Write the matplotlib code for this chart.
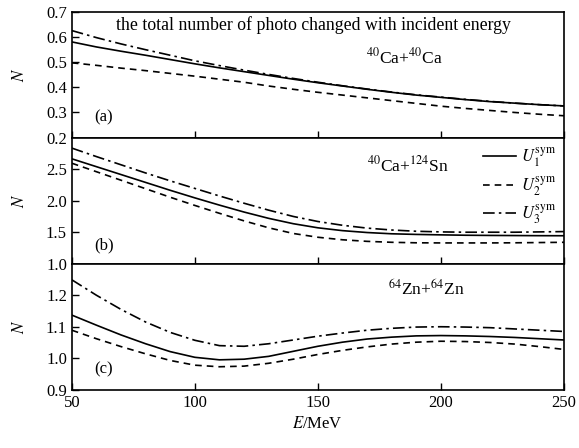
import matplotlib
matplotlib.use('Agg')
import matplotlib.pyplot as plt

plt.rcParams['font.family'] = ['Liberation Serif', 'DejaVu Serif']
plt.rcParams['mathtext.fontset'] = 'stix'

# incident energy (MeV)
energy = [50, 60, 70, 80, 90, 100, 110, 120, 130, 140, 150,
          160, 170, 180, 190, 200, 210, 220, 230, 240, 250]

# (a) 40Ca+40Ca
ca_u1 = [0.580, 0.560, 0.543, 0.527, 0.510, 0.493, 0.477, 0.462, 0.447, 0.432, 0.418,
         0.405, 0.392, 0.380, 0.369, 0.360, 0.351, 0.343, 0.337, 0.331, 0.326]
ca_u2 = [0.497, 0.487, 0.476, 0.466, 0.455, 0.444, 0.432, 0.420, 0.405, 0.392, 0.380,
         0.369, 0.358, 0.347, 0.336, 0.325, 0.316, 0.308, 0.300, 0.293, 0.287]
ca_u3 = [0.625, 0.597, 0.572, 0.549, 0.527, 0.505, 0.486, 0.468, 0.451, 0.435, 0.420,
         0.406, 0.393, 0.381, 0.370, 0.361, 0.352, 0.344, 0.337, 0.331, 0.326]

# (b) 40Ca+124Sn
sn_u1 = [2.665, 2.540, 2.415, 2.290, 2.165, 2.045, 1.930, 1.820, 1.720, 1.635, 1.570,
         1.525, 1.495, 1.475, 1.465, 1.458, 1.452, 1.449, 1.447, 1.445, 1.444]
sn_u2 = [2.595, 2.460, 2.325, 2.190, 2.055, 1.925, 1.800, 1.680, 1.570, 1.480, 1.420,
         1.380, 1.355, 1.340, 1.332, 1.330, 1.330, 1.330, 1.332, 1.336, 1.340]
sn_u3 = [2.835, 2.700, 2.570, 2.440, 2.315, 2.195, 2.075, 1.960, 1.850, 1.750, 1.670,
         1.610, 1.565, 1.535, 1.515, 1.505, 1.500, 1.500, 1.500, 1.505, 1.510]

# (c) 64Zn+64Zn
zn_u1 = [1.137, 1.105, 1.074, 1.046, 1.021, 1.003, 0.995, 0.997, 1.006, 1.022, 1.038,
         1.051, 1.061, 1.067, 1.071, 1.072, 1.071, 1.069, 1.066, 1.062, 1.058]
zn_u2 = [1.089, 1.062, 1.037, 1.014, 0.993, 0.978, 0.973, 0.975, 0.984, 0.997, 1.012,
         1.025, 1.036, 1.045, 1.051, 1.054, 1.053, 1.050, 1.045, 1.037, 1.028]
zn_u3 = [1.249, 1.200, 1.155, 1.115, 1.082, 1.057, 1.040, 1.038, 1.046, 1.058, 1.070,
         1.080, 1.089, 1.095, 1.099, 1.100, 1.099, 1.097, 1.093, 1.089, 1.085]

labels = [r'$U_1^{\rm sym}$', r'$U_2^{\rm sym}$', r'$U_3^{\rm sym}$']
styles = [dict(ls='-'), dict(ls=(0, (4, 3))), dict(ls=(0, (7, 2.5, 1.5, 2.5)))]

# series, ylim, yticks, ticklabels, tag, tag y, system label, label pos
panels = [
    ([ca_u1, ca_u2, ca_u3], (0.2, 0.7), [0.2, 0.3, 0.4, 0.5, 0.6, 0.7],
     ['0.2', '0.3', '0.4', '0.5', '0.6', '0.7'], '(a)', 0.16,
     r'$^{40}$Ca+$^{40}$Ca', (0.675, 0.64)),
    ([sn_u1, sn_u2, sn_u3], (1.0, 3.0), [1.0, 1.5, 2.0, 2.5],
     ['1.0', '1.5', '2.0', '2.5'], '(b)', 0.145,
     r'$^{40}$Ca+$^{124}$Sn', (0.683, 0.78)),
    ([zn_u1, zn_u2, zn_u3], (0.9, 1.3), [0.9, 1.0, 1.1, 1.2],
     ['0.9', '1.0', '1.1', '1.2'], '(c)', 0.165,
     r'$^{64}$Zn+$^{64}$Zn', (0.72, 0.80)),
]

fig, axes = plt.subplots(3, 1, figsize=(5.79, 4.48), dpi=100, sharex=True)
fig.subplots_adjust(left=0.124, right=0.974, top=0.974, bottom=0.130, hspace=0)

for ax, (series, ylim, yt, ytl, tag, tag_y, system, spos) in zip(axes, panels):
    for vals, st, lab in zip(series, styles, labels):
        ax.plot(energy, vals, color='black', lw=1.2, label=lab, **st)
    ax.set_xlim(50, 250)
    ax.set_ylim(*ylim)
    ax.set_yticks(yt)
    ax.set_yticklabels(ytl)
    ax.set_xticks([50, 100, 150, 200, 250])
    ax.tick_params(direction='in', length=5, width=1, labelsize=12, top=False, right=False)
    ax.set_ylabel(r'$N$', fontsize=12)
    ax.yaxis.set_label_coords(-0.09, 0.5)
    ax.text(0.045, tag_y, tag, transform=ax.transAxes, fontsize=12, ha='left', va='center')
    ax.text(spos[0], spos[1], system, transform=ax.transAxes, fontsize=12.5, ha='center', va='center')
    for sp in ax.spines.values():
        sp.set_linewidth(1.2)

axes[0].text(0.49, 0.895, 'the total number of photo changed with incident energy',
             transform=axes[0].transAxes, fontsize=12.8, ha='center', va='center')

axes[1].legend(loc='upper right', frameon=False, fontsize=12, handlelength=2.0,
               handletextpad=0.3, labelspacing=0.3, borderaxespad=0.05)

axes[2].set_xlabel(r'$E$/MeV', fontsize=12)

fig.savefig('out.png', dpi=100)
